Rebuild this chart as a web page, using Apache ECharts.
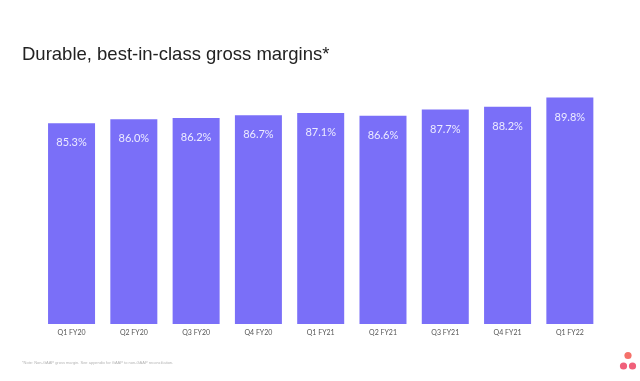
<!DOCTYPE html>
<html><head><meta charset="utf-8">
<script src="https://cdn.jsdelivr.net/npm/echarts@6/dist/echarts.min.js"></script>
<style>html,body{margin:0;padding:0;background:#fff}#c{width:640px;height:381px}</style>
</head><body><div id="c"></div>
<script>
const categories = ["Q1 FY20","Q2 FY20","Q3 FY20","Q4 FY20","Q1 FY21","Q2 FY21","Q3 FY21","Q4 FY21","Q1 FY22"];
const margins = [85.3, 86.0, 86.2, 86.7, 87.1, 86.6, 87.7, 88.2, 89.8];
const titleText = "Durable, best-in-class gross margins*";
const footnote = "*Note: Non-GAAP gross margin. See appendix for GAAP to non-GAAP reconciliation.";

const chart = echarts.init(document.getElementById('c'), null, {renderer:'canvas'});
chart.setOption({
  backgroundColor:'#fff',
  animation:false,
  title:{text:titleText,left:17,top:40,textStyle:{fontFamily:'Liberation Sans, Arial',fontSize:18.5,fontWeight:'normal',color:'#222'}},
  grid:{left:40.4,right:39,top:39.5,bottom:57},
  xAxis:{type:'category',data:categories,
    axisLine:{show:false},axisTick:{show:false},
    axisLabel:{fontSize:7,color:'#555',margin:5,fontFamily:'Lato, Noto Sans'}},
  yAxis:{type:'value',min:50,max:100,show:false,splitLine:{show:false}},
  series:[{type:'bar',data:margins,barWidth:47,
    itemStyle:{color:'#7a6ff8'},
    label:{show:true,position:'insideTop',distance:14,fontSize:11,color:'#ecebff',
      fontFamily:'Lato, Noto Sans',formatter:p=>p.value.toFixed(1)+'%'}}],
  graphic:[
    {type:'text',left:22,top:361,style:{text:footnote,fontSize:4,fill:'#b5b5b5',fontFamily:'Liberation Sans'}},
    {type:'circle',shape:{cx:628,cy:355.5,r:3.6},style:{fill:'#f5716a'}},
    {type:'circle',shape:{cx:623.5,cy:366,r:3.6},style:{fill:'#f0607a'}},
    {type:'circle',shape:{cx:632.5,cy:366,r:3.6},style:{fill:'#f0607a'}}
  ]
});
</script></body></html>
